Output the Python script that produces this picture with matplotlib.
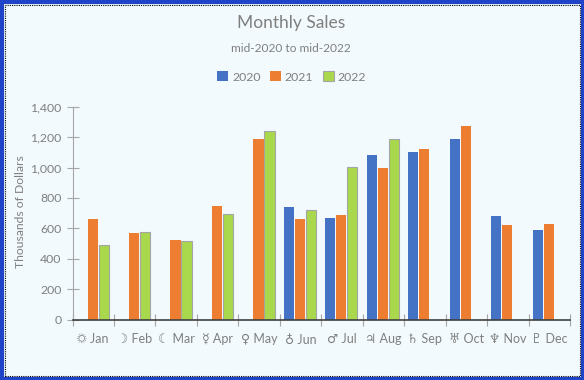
import numpy as np
import matplotlib
matplotlib.use('Agg')
import matplotlib.pyplot as plt
from matplotlib.patches import Rectangle

plt.rcParams['font.family'] = ['Lato', 'DejaVu Sans']

months = ['☼ Jan', '☽ Feb', '☾ Mar', '☿ Apr', '♀ May', '♁ Jun',
          '♂ Jul', '♃ Aug', '♄ Sep', '♅ Oct', '♆ Nov', '♇ Dec']
sales_2020 = [np.nan, np.nan, np.nan, np.nan, np.nan, 740, 665, 1080, 1100, 1185, 680, 590]
sales_2021 = [660, 570, 520, 750, 1190, 660, 685, 1000, 1125, 1270, 620, 630]
sales_2022 = [490, 575, 515, 695, 1240, 720, 1005, 1185, np.nan, np.nan, np.nan, np.nan]
yticks = [0, 200, 400, 600, 800, 1000, 1200, 1400]

BLUE = '#4472C4'
ORANGE = '#ED7D31'
GREEN = '#A9D84C'
GREY = '#7F7F7F'
BG = '#F2FAFD'

W, H = 584, 380
fig = plt.figure(figsize=(W / 100, H / 100), dpi=100, facecolor=BG)

# frame: solid blue outside, dotted black inside
fig.add_artist(Rectangle((1.5 / W, 1.5 / H), (W - 3) / W, (H - 3) / H, transform=fig.transFigure,
                         fill=False, ec='#1F44C8', lw=3))
fig.add_artist(Rectangle((4.5 / W, 4.5 / H), (W - 9) / W, (H - 9) / H, transform=fig.transFigure,
                         fill=False, ec='black', lw=0.8, ls=(0, (1, 1))))

ax = fig.add_axes([72.5 / W, (H - 319.5) / H, (570 - 72.5) / W, (319.5 - 106.7) / H])
ax.set_facecolor('none')

x = np.arange(12) - 0.015
w = 0.245
step = 0.265
ax.bar(x - step, sales_2020, w, color=BLUE)
ax.bar(x, sales_2021, w, color=ORANGE)
ax.bar(x + step, sales_2022, w, color=GREEN, edgecolor='#A5A5A5', linewidth=0.8)

ax.set_xlim(-0.5, 11.5)
ax.set_ylim(0, 1400)
ax.set_yticks(yticks)
ax.set_yticklabels(['{:,}'.format(v) for v in yticks], fontsize=8.8, color=GREY)
ax.set_xticks(np.arange(-0.5, 12, 1))
ax.set_xticklabels([])
ax.set_xticks(np.arange(12), minor=True)
ax.set_xticklabels(months, minor=True, fontsize=9, color=GREY)
ax.tick_params(axis='x', which='major', direction='inout', length=8, color='#A6A6A6', width=0.8)
ax.tick_params(axis='x', which='minor', length=0, pad=10)
ax.tick_params(axis='y', direction='inout', length=8, color='#A6A6A6', width=0.8, pad=4)

for s in ['top', 'right']:
    ax.spines[s].set_visible(False)
ax.spines['left'].set_color('#A6A6A6')
ax.spines['bottom'].set_color('#404040')
ax.spines['bottom'].set_linewidth(1.2)

fig.text(21 / W, (H - 212) / H, 'Thousands of Dollars', rotation=90, fontsize=8.7, color=GREY,
         ha='center', va='center')
fig.text(291 / W, (H - 23) / H, 'Monthly Sales', fontsize=12.5, color=GREY, ha='center', va='center')
fig.text(291 / W, (H - 48) / H, 'mid-2020 to mid-2022', fontsize=8.6, color=GREY, ha='center', va='center')

# legend
handles = [Rectangle((0, 0), 1, 1, fc=BLUE), Rectangle((0, 0), 1, 1, fc=ORANGE),
           Rectangle((0, 0), 1, 1, fc=GREEN, ec='#A5A5A5', lw=0.8)]
fig.legend(handles, ['2020', '2021', '2022'], ncol=3, frameon=False, fontsize=8.8,
           labelcolor=GREY, loc='center', bbox_to_anchor=(291.5 / W, (H - 77) / H),
           handlelength=0.9, handleheight=0.9, handletextpad=0.35, columnspacing=0.75)

fig.savefig('out.png', dpi=100, facecolor=BG)
